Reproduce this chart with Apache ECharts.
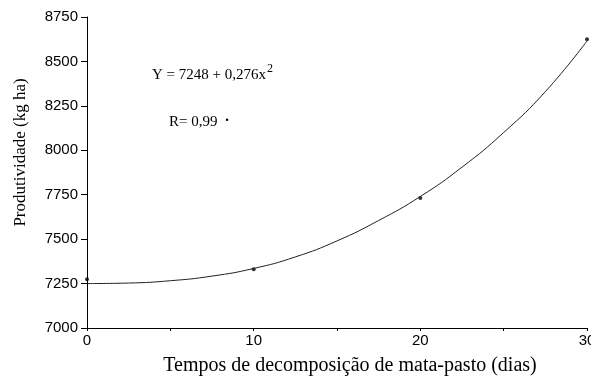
<!DOCTYPE html>
<html>
<head>
<meta charset="utf-8">
<script src="https://cdn.jsdelivr.net/npm/echarts@6/dist/echarts.min.js"></script>
<style>html,body{margin:0;padding:0;background:#fff}#c{width:591px;height:378px}</style>
</head>
<body>
<div id="c"></div>
<script>
// Observed data points (x = days, y = kg/ha)
var obsX = [0, 10, 20, 30];
var obsY = [7275, 7330, 7731, 8625];
// Fitted curve
var curveX = [0, 2.5, 5, 7.5, 10, 12.5, 15, 17.5, 20, 22.5, 25, 27.5, 30];
var curveY = [7250, 7253, 7266, 7292, 7335, 7400, 7490, 7605, 7740, 7905, 8100, 8330, 8615];
var xTicks = [0, 10, 20, 30];
var yTicks = [7000, 7250, 7500, 7750, 8000, 8250, 8500, 8750];

var chart = echarts.init(document.getElementById('c'), null, {renderer: 'canvas'});
var serif = '"Liberation Serif", "DejaVu Serif", serif';
var sans = '"Liberation Sans", Arial, sans-serif';
chart.setOption({
  animation: false,
  backgroundColor: '#fff',
  grid: {left: 87, right: 4, top: 17, bottom: 50, containLabel: false, outerBoundsMode: 'none'},
  xAxis: {
    type: 'value', min: xTicks[0], max: xTicks[xTicks.length - 1], interval: 10,
    name: 'Tempos de decomposição de mata-pasto (dias)',
    nameLocation: 'middle', nameGap: 28,
    nameTextStyle: {fontFamily: serif, fontSize: 20, color: '#000', padding: [0, 0, 0, 26]},
    axisLine: {lineStyle: {color: '#000', width: 1}},
    axisTick: {show: true, length: 3, lineStyle: {color: '#000'}},
    minorTick: {show: true, splitNumber: 2, length: 3, lineStyle: {color: '#000'}},
    splitLine: {show: false},
    axisLabel: {fontFamily: sans, fontSize: 15, color: '#000', margin: 5,
      formatter: function (v) { return String(v); }},
  },
  yAxis: {
    type: 'value', min: yTicks[0], max: yTicks[yTicks.length - 1], interval: 250,
    name: 'Produtividade (kg ha)',
    nameLocation: 'middle', nameGap: 58,
    nameTextStyle: {fontFamily: serif, fontSize: 17, color: '#000', padding: [0, 0, 0, 40]},
    axisLine: {show: true, lineStyle: {color: '#000', width: 1}},
    axisTick: {show: true, length: 6, lineStyle: {color: '#000'}},
    splitLine: {show: false},
    axisLabel: {fontFamily: sans, fontSize: 15, color: '#000', margin: 9,
      formatter: function (v) { return String(v); }},
  },
  series: [
    {
      type: 'line', smooth: true, showSymbol: false,
      data: curveX.map(function (x, i) { return [x, curveY[i]]; }),
      lineStyle: {color: '#222', width: 1}
    },
    {
      type: 'scatter', symbol: 'circle', symbolSize: 4,
      data: obsX.map(function (x, i) { return [x, obsY[i]]; }),
      itemStyle: {color: '#000'}
    }
  ],
  graphic: [
    {
      type: 'text', left: 152, top: 63,
      style: {
        text: '{a|Y = 7248 + 0,276x}{s|2}',
        rich: {
          a: {fontFamily: serif, fontSize: 15, fill: '#000', verticalAlign: 'bottom', lineHeight: 20},
          s: {fontFamily: serif, fontSize: 12, fill: '#000', verticalAlign: 'top', lineHeight: 20, padding: [0, 0, 10, 1]}
        }
      }
    },
    {
      type: 'text', left: 169, top: 115,
      style: {
        text: '{a|R= 0,99}{s|•}',
        rich: {
          a: {fontFamily: serif, fontSize: 15, fill: '#000', lineHeight: 20},
          s: {fontFamily: sans, fontSize: 9, fill: '#000', lineHeight: 20, padding: [0, 0, 3, 8]}
        }
      }
    }
  ]
});
</script>
</body>
</html>
